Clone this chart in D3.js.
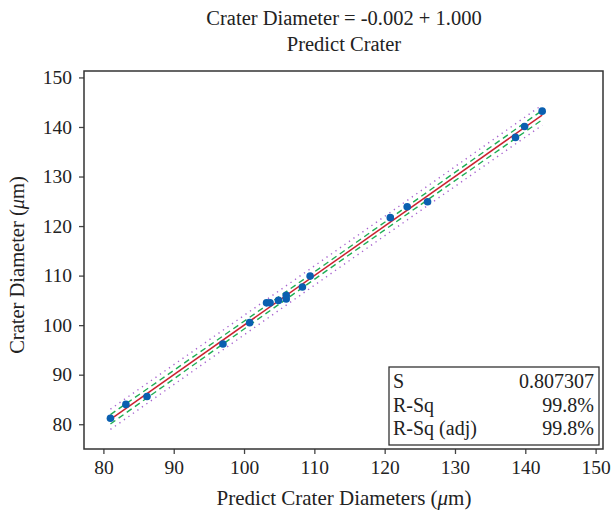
<!DOCTYPE html>
<html><head><meta charset="utf-8">
<script src="https://cdn.jsdelivr.net/npm/d3@7"></script>
<style>body{margin:0;background:#fff}</style>
</head><body>
<svg id="c" width="611" height="517"></svg>
<script>
// Data
const predicted = [81.0, 83.2, 86.2, 97.0, 100.8, 103.2, 103.7, 104.9, 106.0, 106.0, 108.3, 109.4, 120.8, 123.2, 126.1, 138.6, 139.9, 142.4];
const measured  = [81.2, 84.0, 85.6, 96.2, 100.5, 104.5, 104.5, 105.0, 105.3, 106.0, 107.7, 109.9, 121.7, 123.9, 124.9, 137.9, 140.1, 143.2];
const intercept = -0.002, slope = 1.000;
const bandX   = [81.0, 111.7, 142.4];
const ciHalf  = [0.95, 0.75, 0.95];
const piHalf  = [2.05, 1.95, 2.05];
const xTicks = [80, 90, 100, 110, 120, 130, 140, 150];
const yTicks = [80, 90, 100, 110, 120, 130, 140, 150];
const statLabels = ["S", "R-Sq", "R-Sq (adj)"];
const statValues = ["0.807307", "99.8%", "99.8%"];

const svg = d3.select("#c");
const font = "'Liberation Serif','DejaVu Serif',serif";
const L = 84, R = 603, T = 71, B = 449;
const x = d3.scaleLinear().domain([77.24, 151.05]).range([L, R]);
const y = d3.scaleLinear().domain([75.0, 151.3]).range([B, T]);

// Title
const title = svg.append("text").attr("x", 344).attr("text-anchor", "middle")
  .attr("font-family", font).attr("font-size", 20.5).attr("fill", "#222");
title.append("tspan").attr("x", 344).attr("y", 25).text("Crater Diameter = -0.002 + 1.000");
title.append("tspan").attr("x", 344).attr("y", 51).text("Predict Crater");

// Axes
const xAxis = svg.append("g").attr("transform", `translate(0,${B})`)
  .call(d3.axisBottom(x).tickValues(xTicks).tickSize(5).tickPadding(6).tickFormat(d3.format("d")));
const yAxis = svg.append("g").attr("transform", `translate(${L},0)`)
  .call(d3.axisLeft(y).tickValues(yTicks).tickSize(5).tickPadding(7).tickFormat(d3.format("d")));
[xAxis, yAxis].forEach(g => {
  g.select(".domain").remove();
  g.selectAll(".tick line").attr("stroke", "#444").attr("stroke-width", 1.3);
  g.selectAll(".tick text").attr("font-family", font).attr("font-size", 19.5).attr("fill", "#222");
});

// Frame
svg.append("rect").attr("x", L).attr("y", T).attr("width", R - L).attr("height", B - T)
  .attr("fill", "none").attr("stroke", "#333").attr("stroke-width", 1.5);

// Bands
const band = (half, sign) => d3.line().curve(d3.curveMonotoneX)
  .x(d => x(d)).y((d, i) => y(intercept + slope * d + sign * half[i]))(bandX);
[[piHalf, 1], [piHalf, -1]].forEach(([h, s]) =>
  svg.append("path").attr("d", band(h, s)).attr("fill", "none")
    .attr("stroke", "#a865cf").attr("stroke-width", 1.4).attr("stroke-dasharray", "1.3,4.2"));
[[ciHalf, 1], [ciHalf, -1]].forEach(([h, s]) =>
  svg.append("path").attr("d", band(h, s)).attr("fill", "none")
    .attr("stroke", "#1fae55").attr("stroke-width", 1.4).attr("stroke-dasharray", "6,4"));
// Fit line
svg.append("line")
  .attr("x1", x(bandX[0])).attr("y1", y(intercept + slope * bandX[0]))
  .attr("x2", x(bandX[2])).attr("y2", y(intercept + slope * bandX[2]))
  .attr("stroke", "#cc2231").attr("stroke-width", 1.5);

// Points
svg.append("g").selectAll("circle").data(predicted).join("circle")
  .attr("cx", d => x(d)).attr("cy", (d, i) => y(measured[i])).attr("r", 3.8)
  .attr("fill", "#0a5fb0");

// Stats box
const bx = 389, by = 367, bw = 210, bh = 78;
svg.append("rect").attr("x", bx).attr("y", by).attr("width", bw).attr("height", bh)
  .attr("fill", "#fff").attr("stroke", "#333").attr("stroke-width", 1.3);
statLabels.forEach((s, i) => {
  svg.append("text").attr("x", bx + 4).attr("y", by + 21 + i * 23.5)
    .attr("font-family", font).attr("font-size", 20).attr("fill", "#222").text(s);
  svg.append("text").attr("x", bx + bw - 5).attr("y", by + 21 + i * 23.5).attr("text-anchor", "end")
    .attr("font-family", font).attr("font-size", 20).attr("fill", "#222").text(statValues[i]);
});

// Axis labels
const xl = svg.append("text").attr("x", 344).attr("y", 505).attr("text-anchor", "middle")
  .attr("font-family", font).attr("font-size", 21).attr("fill", "#222");
xl.append("tspan").text("Predict Crater Diameters (");
xl.append("tspan").attr("font-style", "italic").text("μ");
xl.append("tspan").text("m)");
const yl = svg.append("text").attr("transform", "translate(24,265) rotate(-90)").attr("text-anchor", "middle")
  .attr("font-family", font).attr("font-size", 20.5).attr("fill", "#222");
yl.append("tspan").text("Crater Diameter (");
yl.append("tspan").attr("font-style", "italic").text("μ");
yl.append("tspan").text("m)");
</script>
</body></html>
